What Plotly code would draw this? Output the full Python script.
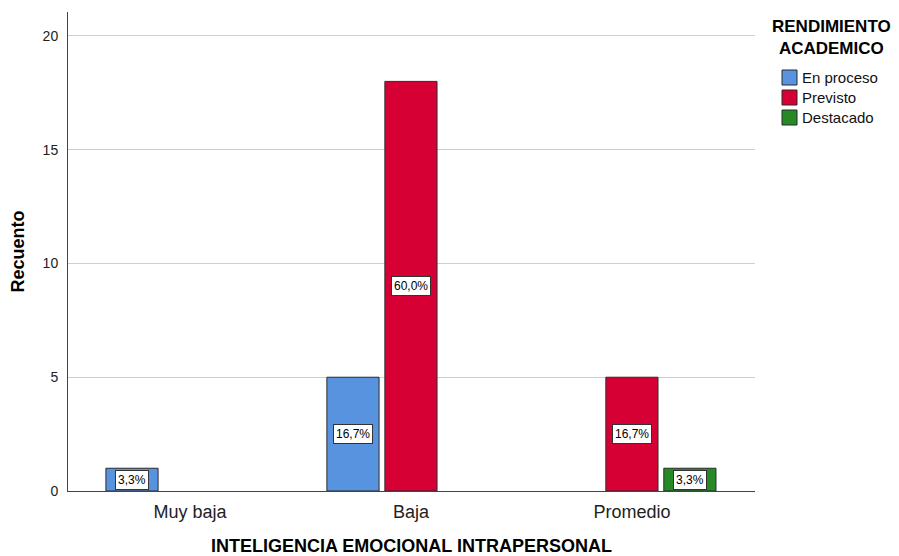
import plotly.graph_objects as go

categories = ["Muy baja", "Baja", "Promedio"]
series_names = ["En proceso", "Previsto", "Destacado"]
en_proceso = [1, 5, None]
previsto = [None, 18, 5]
destacado = [None, None, 1]
en_proceso_pct = ["3,3%", "16,7%", None]
previsto_pct = [None, "60,0%", "16,7%"]
destacado_pct = [None, None, "3,3%"]
colors = ["#5893E0", "#D70034", "#258A25"]
y_ticks = [0, 5, 10, 15, 20]
legend_title = "RENDIMIENTO<br>ACADEMICO"
x_title = "INTELIGENCIA EMOCIONAL INTRAPERSONAL"
y_title = "Recuento"

FONT = "Liberation Sans, Arial, sans-serif"

# page has an 8px body margin; compensate
OFF = 8
W, H = 899 - OFF, 556 - OFF
ML, MR, MT, MB = 60, 144, 4, 65
PW = W - ML - MR
PH = H - MT - MB


def px_x(px):
    return (px - OFF - ML) / PW


def px_y(py):
    return (H - MB + OFF - py) / PH


fig = go.Figure()
all_vals = [en_proceso, previsto, destacado]
all_pct = [en_proceso_pct, previsto_pct, destacado_pct]
for name, vals, col in zip(series_names, all_vals, colors):
    fig.add_trace(go.Bar(
        x=categories, y=vals, name=name,
        marker=dict(color=col, line=dict(color="#2b2b2b", width=1)),
        hoverinfo="skip", showlegend=False,
    ))

slot = 0.2624
for si, (vals, pcts) in enumerate(zip(all_vals, all_pct)):
    for ci, (v, p) in enumerate(zip(vals, pcts)):
        if v is None:
            continue
        fig.add_annotation(
            x=ci + (si - 1) * slot, y=v / 2, xref="x", yref="y",
            text=p, showarrow=False,
            font=dict(family=FONT, size=12, color="#000"),
            bgcolor="white", bordercolor="#333", borderwidth=1, borderpad=2,
        )

# legend title
fig.add_annotation(
    x=px_x(831), y=px_y(37), xref="paper", yref="paper",
    text="<b>" + legend_title + "</b>", showarrow=False,
    xanchor="center", yanchor="middle", align="center",
    font=dict(family=FONT, size=17, color="#000"),
)
# legend entries
for i, (name, col) in enumerate(zip(series_names, colors)):
    top = 70 + 20 * i
    fig.add_shape(
        type="rect", xref="paper", yref="paper",
        x0=px_x(782), x1=px_x(797), y0=px_y(top), y1=px_y(top + 15),
        fillcolor=col, line=dict(color="#2b2b2b", width=1),
    )
    fig.add_annotation(
        x=px_x(800), y=px_y(top + 7.5), xref="paper", yref="paper",
        text=name, showarrow=False, xanchor="left", yanchor="middle",
        font=dict(family=FONT, size=15, color="#111"),
    )

fig.update_layout(
    width=W, height=H,
    margin=dict(l=ML, r=MR, t=MT, b=MB, autoexpand=False),
    paper_bgcolor="white", plot_bgcolor="white",
    barmode="group", bargap=0.213, bargroupgap=0.1,
    font=dict(family=FONT, color="#000"),
    showlegend=False,
    xaxis=dict(
        type="category", range=[-0.552, 2.557],
        showgrid=False, showline=True, linecolor="#444", linewidth=1,
        ticks="", ticklabelstandoff=4,
        tickfont=dict(family=FONT, size=18, color="#222"),
        title=dict(text="<b>" + x_title + "</b>",
                   font=dict(family=FONT, size=18, color="#000"), standoff=24),
        zeroline=False,
    ),
    yaxis=dict(
        range=[0, 21.05], tickvals=y_ticks,
        showgrid=True, gridcolor="#cfcfcf", gridwidth=1,
        showline=True, linecolor="#444", linewidth=1,
        ticks="", ticklabelstandoff=6,
        tickfont=dict(family=FONT, size=14, color="#222"),
        title=dict(text="<b>" + y_title + "</b>",
                   font=dict(family=FONT, size=18, color="#000"), standoff=15),
        zeroline=False,
    ),
)

fig.write_html("out.html")
